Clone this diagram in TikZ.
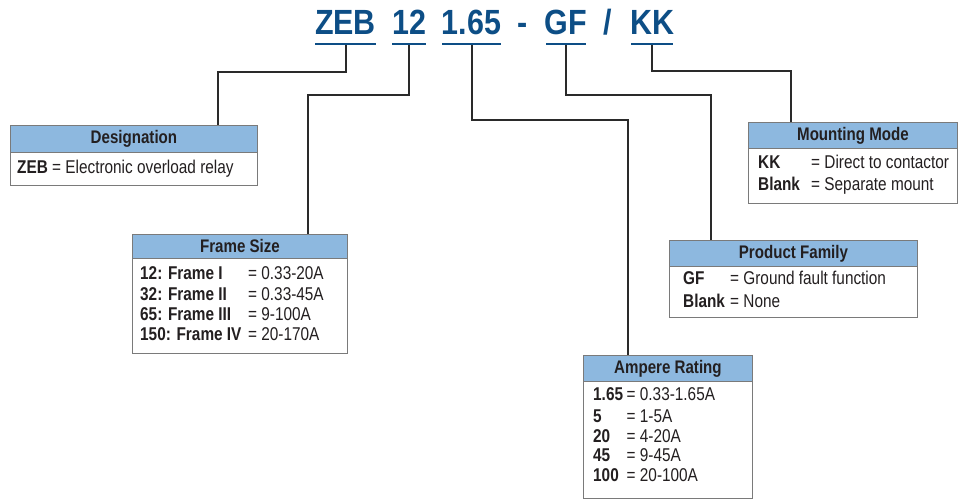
\documentclass[tikz,border=0pt]{standalone}
\usepackage{fontspec}
\setmainfont[FakeStretch=0.83]{Liberation Sans}
\newfontfamily\codefont[FakeStretch=0.87]{Liberation Sans}
\definecolor{codeblue}{HTML}{0D4E86}
\definecolor{hdrblue}{HTML}{8DB8DF}
\definecolor{boxgray}{HTML}{7A7A7A}
\definecolor{txt}{HTML}{231F20}
\definecolor{connc}{HTML}{2A2A2A}
\tikzset{
  x=1pt, y=-1pt,
  code/.style={anchor=base, inner sep=0pt, text=codeblue, font=\codefont\fontsize{35}{40}\selectfont\bfseries},
  uline/.style={draw=codeblue, line width=2.6pt},
  conn/.style={draw=connc, line width=1.1pt},
  hdr/.style={draw=boxgray, fill=hdrblue, line width=0.9pt, anchor=north west, inner sep=0pt, text=txt, font=\fontsize{18.2}{20}\selectfont\bfseries},
  bodybox/.style={draw=boxgray, fill=white, line width=0.9pt, anchor=north west, inner sep=0pt},
  lbl/.style={anchor=base west, inner sep=0pt, text=txt, font=\fontsize{18.5}{20}\selectfont\bfseries},
  val/.style={anchor=base west, inner sep=0pt, text=txt, font=\fontsize{18.5}{20}\selectfont},
}
\begin{document}
\begin{tikzpicture}
\useasboundingbox (0,0) rectangle (960,500);
% code line
\node[code] (tZEB) at (345.5,35) {ZEB};
\node[code] (t12) at (409,35) {12};
\node[code] (t165) at (471.5,35) {1.65};
\node[code] (tdash) at (523,35) {-};
\node[code] (tGF) at (566,35) {GF};
\node[code] (tslash) at (608,35) {/};
\node[code] (tKK) at (652,35) {KK};
\draw[uline] (315,44) -- (376,44);
\draw[uline] (392,44) -- (426,44);
\draw[uline] (442,44) -- (501,44);
\draw[uline] (546,44) -- (586,44);
\draw[uline] (631,44) -- (673,44);
\coordinate (uZEB) at (346,45.3);
\coordinate (u12) at (409,45.3);
\coordinate (u165) at (472,45.3);
\coordinate (uGF) at (566,45.3);
\coordinate (uKK) at (652,45.3);

% Designation
\node[bodybox, minimum width=247, minimum height=60] (desB) at (10,125) {};
\node[hdr, minimum width=247, minimum height=27] (desH) at (10,125) {Designation};
\node[lbl] (desL1) at (17,173.5) {ZEB};
\node[val] (desV1) at (52,173.5) {= Electronic overload relay};

% Frame Size
\node[bodybox, minimum width=215, minimum height=119] (frB) at (132,234) {};
\node[hdr, minimum width=215, minimum height=24] (frH) at (132,234) {Frame Size};
\node[lbl] (frL1) at (140,279.5) {12: Frame I};
\node[lbl] (frL2) at (140,300.5) {32: Frame II};
\node[lbl] (frL3) at (140,320.5) {65: Frame III};
\node[lbl] (frL4) at (140,340.5) {150: Frame IV};
\node[val] (frV1) at (248,279.5) {= 0.33-20A};
\node[val] (frV2) at (248,300.5) {= 0.33-45A};
\node[val] (frV3) at (248,320.5) {= 9-100A};
\node[val] (frV4) at (248,340.5) {= 20-170A};

% Ampere Rating
\node[bodybox, minimum width=169, minimum height=143] (amB) at (583,355) {};
\node[hdr, minimum width=169, minimum height=26] (amH) at (583,355) {Ampere Rating};
\node[lbl] (amL1) at (593,400.5) {1.65};
\node[lbl] (amL2) at (593,422.5) {5};
\node[lbl] (amL3) at (593,442.5) {20};
\node[lbl] (amL4) at (593,461.5) {45};
\node[lbl] (amL5) at (593,481.5) {100};
\node[val] (amV1) at (626.5,400.5) {= 0.33-1.65A};
\node[val] (amV2) at (626.5,422.5) {= 1-5A};
\node[val] (amV3) at (626.5,442.5) {= 4-20A};
\node[val] (amV4) at (626.5,461.5) {= 9-45A};
\node[val] (amV5) at (626.5,481.5) {= 20-100A};

% Product Family
\node[bodybox, minimum width=248, minimum height=77] (pfB) at (669,240) {};
\node[hdr, minimum width=248, minimum height=26] (pfH) at (669,240) {Product Family};
\node[lbl] (pfL1) at (683,284.5) {GF};
\node[lbl] (pfL2) at (683,307.5) {Blank};
\node[val] (pfV1) at (730,284.5) {= Ground fault function};
\node[val] (pfV2) at (730,307.5) {= None};

% Mounting Mode
\node[bodybox, minimum width=209, minimum height=81] (mmB) at (748,122) {};
\node[hdr, minimum width=209, minimum height=26] (mmH) at (748,122) {Mounting Mode};
\node[lbl] (mmL1) at (758,168.5) {KK};
\node[lbl] (mmL2) at (758,190.5) {Blank};
\node[val] (mmV1) at (811,168.5) {= Direct to contactor};
\node[val] (mmV2) at (811,190.5) {= Separate mount};

% connectors
\draw[conn] (uZEB) -- ++(0,26.7) -| ([xshift=208]desH.north west);
\draw[conn] (u12) -- ++(0,49.7) -| ([xshift=176]frH.north west);
\draw[conn] (u165) -- ++(0,74.7) -| ([xshift=45]amH.north west);
\draw[conn] (uGF) -- ++(0,49.7) -| ([xshift=42]pfH.north west);
\draw[conn] (uKK) -- ++(0,25.7) -| ([xshift=43]mmH.north west);
\end{tikzpicture}
\end{document}
